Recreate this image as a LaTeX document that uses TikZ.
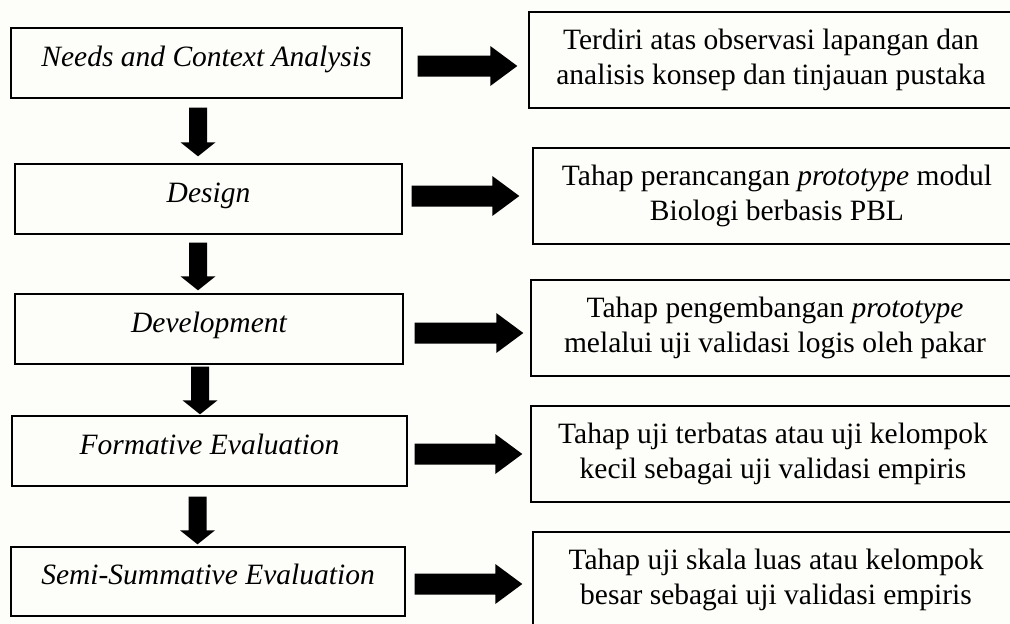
\documentclass[tikz,border=0pt]{standalone}
\usepackage{fontspec}
\setmainfont{Liberation Serif}
\usetikzlibrary{calc}
\definecolor{bgcol}{RGB}{253,253,249}
\tikzset{
  stagebox/.style={draw=black, line width=1.4pt, inner sep=0pt, text height=20pt, text depth=14pt, font=\fontsize{29.5}{35}\selectfont\itshape},
  descbox/.style={draw=black, line width=1.4pt, inner sep=0pt, align=center, minimum height=96pt, font=\fontsize{29.5}{35}\selectfont},
  blockfill/.style={fill=black},
}
\newcommand\RightBlock[4]{\fill[blockfill] let \p1=(#1), \p2=(#2) in (\x1+#3,\y1+10.5pt) -- (\x2-#4-27pt,\y1+10.5pt) -- (\x2-#4-27pt,\y1+20pt) -- (\x2-#4,\y1) -- (\x2-#4-27pt,\y1-20pt) -- (\x2-#4-27pt,\y1-10.5pt) -- (\x1+#3,\y1-10.5pt) -- cycle;}
\newcommand\DownBlock[4]{\fill[blockfill] let \p1=(#1), \p2=(#2) in (\x1-9pt,\y1-#3) -- (\x1-9pt,\y2+#4+14pt) -- (\x1-17.5pt,\y2+#4+14pt) -- (\x1,\y2+#4) -- (\x1+17.5pt,\y2+#4+14pt) -- (\x1+9pt,\y2+#4+14pt) -- (\x1+9pt,\y1-#3) -- cycle;}
\begin{document}
\begin{tikzpicture}[x=1pt,y=-1pt]
\path[use as bounding box, fill=bgcol] (0,0) rectangle (1010,624);
\clip (0,0) rectangle (1010,624);
% left column: stages
\node[stagebox, minimum width=391pt, minimum height=70pt] (s1) at (206.5,63) {Needs and Context Analysis};
\node[stagebox, minimum width=387pt, minimum height=70pt] (s2) at (208.5,199) {Design};
\node[stagebox, minimum width=388pt, minimum height=70pt] (s3) at (209,329) {Development};
\node[stagebox, minimum width=395pt, minimum height=70pt] (s4) at (209.5,451) {Formative Evaluation};
\node[stagebox, minimum width=394pt, minimum height=69pt] (s5) at (208,581.5) {Semi-Summative Evaluation};
% right column: descriptions
\node[descbox, minimum width=484pt] (d1) at (771,60) {Terdiri atas observasi lapangan dan\\analisis konsep dan tinjauan pustaka};
\node[descbox, minimum width=488pt] (d2) at (777,196) {Tahap perancangan \textit{prototype} modul\\Biologi berbasis PBL};
\node[descbox, minimum width=488pt] (d3) at (775,328) {Tahap pengembangan \textit{prototype}\\melalui uji validasi logis oleh pakar};
\node[descbox, minimum width=484pt] (d4) at (773,454) {Tahap uji terbatas atau uji kelompok\\kecil sebagai uji validasi empiris};
\node[descbox, minimum width=486pt] (d5) at (776,580) {Tahap uji skala luas atau kelompok\\besar sebagai uji validasi empiris};
% horizontal block arrows
\RightBlock{[yshift=-3pt]s1.east}{d1.west}{15pt}{11pt}
\RightBlock{[yshift=3pt]s2.east}{d2.west}{9pt}{13pt}
\RightBlock{[yshift=-4pt]s3.east}{d3.west}{11pt}{7pt}
\RightBlock{[yshift=-3pt]s4.east}{d4.west}{7pt}{8pt}
\RightBlock{[yshift=-2.5pt]s5.east}{d5.west}{9pt}{10pt}
% vertical block arrows
\DownBlock{[xshift=-8.5pt]s1.south}{s2.north}{9pt}{7pt}
\DownBlock{[xshift=-10.5pt]s2.south}{s3.north}{8pt}{3pt}
\DownBlock{[xshift=-9pt]s3.south}{s4.north}{2pt}{1pt}
\DownBlock{[xshift=-12pt]s4.south}{s5.north}{10pt}{2pt}
\end{tikzpicture}
\end{document}
